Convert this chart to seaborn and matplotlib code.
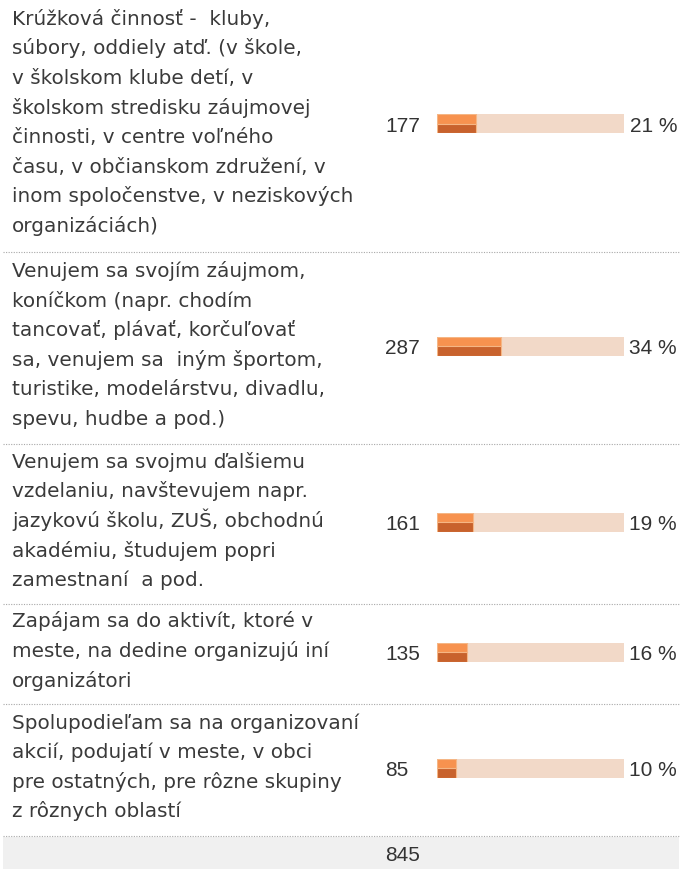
import matplotlib
matplotlib.use("Agg")
import matplotlib.pyplot as plt
from matplotlib.patches import Rectangle
import seaborn as sns
import pandas as pd

# --- survey answers -------------------------------------------------------
categories = [
    "Krúžková činnosť -  kluby,\nsúbory, oddiely atď. (v škole,\nv školskom klube detí, v\n"
    "školskom stredisku záujmovej\nčinnosti, v centre voľného\nčasu, v občianskom združení, v\n"
    "inom spoločenstve, v neziskových\norganizáciách)",
    "Venujem sa svojím záujmom,\nkoníčkom (napr. chodím\ntancovať, plávať, korčuľovať\n"
    "sa, venujem sa  iným športom,\nturistike, modelárstvu, divadlu,\nspevu, hudbe a pod.)",
    "Venujem sa svojmu ďalšiemu\nvzdelaniu, navštevujem napr.\njazykovú školu, ZUŠ, obchodnú\n"
    "akadémiu, študujem popri\nzamestnaní  a pod.",
    "Zapájam sa do aktivít, ktoré v\nmeste, na dedine organizujú iní\norganizátori",
    "Spolupodieľam sa na organizovaní\nakcií, podujatí v meste, v obci\npre ostatných, pre rôzne skupiny\n"
    "z rôznych oblastí",
]
counts = [177, 287, 161, 135, 85]
shares = [21, 34, 19, 16, 10]
total = 845

# --- style ------------------------------------------------------------------
sns.set_theme(style="white")
plt.rcParams["font.family"] = ["DejaVu Sans"]

TEXT_COLOR = "#3a3a3a"
NUM_COLOR = "#333333"
TRACK = "#f2d9c8"
LIGHT = "#f7924f"
DARK = "#c8622d"
EDGE = "#f5b685"
NUM_FONT = ["Liberation Sans"]
NUM_SIZE = 15

W, H = 682, 870
fig = plt.figure(figsize=(W / 100, H / 100), dpi=100)
fig.patch.set_facecolor("white")

canvas = fig.add_axes([0, 0, 1, 1])
canvas.set_xlim(0, W)
canvas.set_ylim(H, 0)
canvas.axis("off")

# layout (pixels)
row_edges = [0, 253, 445, 605, 705, 837]
LINE = 29.6
LABEL_X = 12
NUM_X = 385
PCT_X = 677
BAR_X, BAR_W, BAR_H = 437, 187, 19
SEP_X0, SEP_X1 = 3, 679

for i, (label, n, pct) in enumerate(zip(categories, counts, shares)):
    top, bottom = row_edges[i], row_edges[i + 1]
    mid = (top + bottom) / 2
    lines = label.split("\n")
    text_mid = mid - 4
    for j, line in enumerate(lines):
        yc = text_mid + (j - (len(lines) - 1) / 2) * LINE
        canvas.text(LABEL_X, yc + 6, line, ha="left", va="baseline",
                    fontsize=14.4, color=TEXT_COLOR)

    bar_mid = mid - 2
    canvas.text(NUM_X, bar_mid + 7.5, f"{n}", ha="left", va="baseline",
                fontsize=NUM_SIZE, family=NUM_FONT, color=NUM_COLOR)
    canvas.text(PCT_X, bar_mid + 7.5, f"{pct} %", ha="right", va="baseline",
                fontsize=NUM_SIZE, family=NUM_FONT, color=NUM_COLOR)

    # two-tone bar on a peach track
    ax = fig.add_axes([BAR_X / W, 1 - (bar_mid + BAR_H / 2) / H, BAR_W / W, BAR_H / H])
    df = pd.DataFrame({"band": ["upper", "lower"], "share": [pct, pct]})
    sns.barplot(data=df, x="share", y="band", hue="band", palette=[LIGHT, DARK],
                saturation=1, width=1.0, orient="h", ax=ax, legend=False,
                edgecolor=EDGE, linewidth=0.8)
    ax.set_facecolor(TRACK)
    ax.set_xlim(0, 100)
    ax.set_ylim(1.5, -0.5)
    ax.set_xticks([])
    ax.set_yticks([])
    ax.set_xlabel("")
    ax.set_ylabel("")
    for s in ax.spines.values():
        s.set_visible(False)

    # dotted separator under each row
    canvas.plot([SEP_X0, SEP_X1], [bottom, bottom], color="#a8a8a8",
                lw=0.8, linestyle=(0, (1, 1.3)))

# total row
canvas.add_patch(Rectangle((SEP_X0, 838), SEP_X1 - SEP_X0, H - 838,
                           facecolor="#f0f0f0", edgecolor="none"))
canvas.text(NUM_X, 861, f"{total}", ha="left", va="baseline",
            fontsize=NUM_SIZE, family=NUM_FONT, color=NUM_COLOR)

fig.savefig("out.png", dpi=100, facecolor="white")
